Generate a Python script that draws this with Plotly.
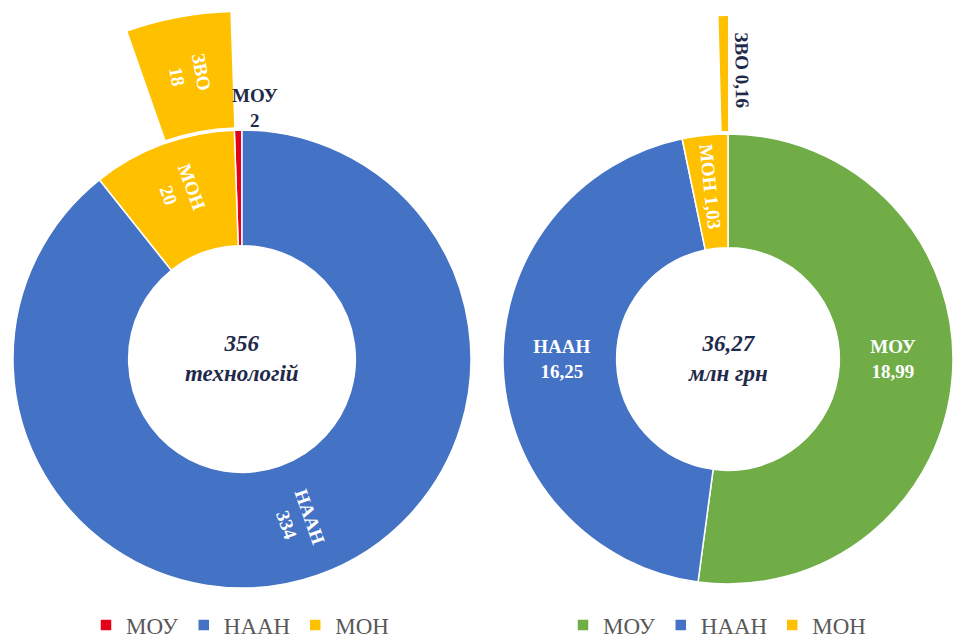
import math
import plotly.graph_objects as go

# ---------------- data ----------------
labels = ["МОУ", "НААН", "МОН"]
tech_values = [2, 334, 20]          # кількість технологій
tech_zvo = 18                        # ЗВО (показано окремим сегментом біля МОН)
fund_values = [18.99, 16.25, 1.03]   # млн грн
fund_zvo = 0.16                      # ЗВО
zvo_label = "ЗВО"
tech_center = ["356", "технологій"]
fund_center = ["36,27", "млн грн"]
tech_colors = ["#E3001B", "#4472C4", "#FFC000"]
fund_colors = ["#70AD47", "#4472C4", "#FFC000"]
zvo_color = "#FFC000"
legend_font_color = "#595959"
dark_text = "#1F2A4A"

# ---------------- layout constants (px) ----------------
W, H = 953, 643
FONT = "Liberation Serif"
HOLE = 0.495
ZVO_GAP, ZVO_LEN = 3, 115
POLAR_R = 350


def fmt(v):
    return f"{v:g}".replace(".", ",")


def to_paper(x, y):
    return x / W, (H - y) / H


donuts = [
    dict(values=tech_values, zvo=tech_zvo, colors=tech_colors, cx=242, cy=359, R=229,
         textpos=["none", "none", "inside"],
         tmpl=["%{label}<br>%{text}"] * 3, first_before_top=True,
         center=tech_center, legend="legend", group="tech", left=True),
    dict(values=fund_values, zvo=fund_zvo, colors=fund_colors, cx=728, cy=359, R=225,
         textpos=["inside", "inside", "inside"],
         tmpl=["%{label}<br>%{text}", "%{label}<br>%{text}", "%{label} %{text}"],
         first_before_top=False,
         center=fund_center, legend="legend2", group="fund", left=False),
]

fig = go.Figure()
annotations = []
polar_layouts = {}
label_font = dict(family=FONT, size=19)

for i, d in enumerate(donuts):
    cx, cy, R = d["cx"], d["cy"], d["R"]
    vals = d["values"]
    # the yellow ring sector covers МОН together with the ЗВО share
    ring = vals[:2] + [vals[2] + d["zvo"]]
    total = sum(ring)
    rotation = -360.0 * ring[0] / total if d["first_before_top"] else 0.0
    fig.add_trace(go.Pie(
        labels=labels, values=ring, text=[fmt(v) for v in vals],
        sort=False, direction="clockwise",
        rotation=rotation, hole=HOLE,
        marker=dict(colors=d["colors"], line=dict(color="white", width=1.5)),
        texttemplate=d["tmpl"], textposition=d["textpos"],
        insidetextorientation="radial",
        insidetextfont=dict(family=FONT, size=19, color="white", weight="bold"),
        domain=dict(x=[(cx - R) / W, min(1, (cx + R) / W)],
                    y=[(H - cy - R) / H, (H - cy + R) / H]),
        legend=d["legend"], legendgroup=d["group"], hoverinfo="label+text",
    ))

    # slice angles (clockwise from 12 o'clock), derived from the data
    starts, acc = [], rotation
    for v in ring:
        starts.append(acc)
        acc += 360.0 * v / total
    mids = [s + 180.0 * v / total for s, v in zip(starts, ring)]

    # ЗВО — outer segment at the end of the yellow sector, drawn in a polar subplot
    mon_end = starts[2] + 360.0 * ring[2] / total
    zvo_deg = 360.0 * d["zvo"] / total
    zvo_mid = mon_end - zvo_deg / 2
    pname = "polar" if i == 0 else "polar%d" % (i + 1)
    fig.add_trace(go.Barpolar(
        theta=[zvo_mid], r=[ZVO_LEN], base=[R + ZVO_GAP], width=[zvo_deg],
        marker=dict(color=zvo_color, line=dict(width=0)),
        subplot=pname, showlegend=False, hoverinfo="skip",
    ))
    polar_layouts[pname] = dict(
        domain=dict(x=[(cx - POLAR_R / 2) / W, (cx + POLAR_R / 2) / W],
                    y=[(H - cy) / H, (H - cy + POLAR_R) / H]),
        sector=[60, 120], bgcolor="rgba(0,0,0,0)",
        radialaxis=dict(range=[0, POLAR_R], visible=False),
        angularaxis=dict(rotation=90, direction="clockwise", visible=False),
    )

    def polar_pt(theta, r):
        a = math.radians(theta)
        return cx + r * math.sin(a), cy - r * math.cos(a)

    # ЗВО label
    rmid = R + ZVO_GAP + ZVO_LEN / 2
    lx, ly = polar_pt(zvo_mid, rmid)
    px, py = to_paper(lx, ly)
    if d["left"]:
        annotations.append(dict(
            x=px, y=py, xref="paper", yref="paper", showarrow=False,
            xanchor="center", yanchor="middle",
            text=f"<b>{zvo_label}<br>{fmt(d['zvo'])}</b>", textangle=zvo_mid - 270,
            font=dict(**label_font, color="white")))
        # НААН label (radial, centred in its slice)
        rr = R * (1 + HOLE) / 2
        nx, ny = polar_pt(mids[1], rr)
        px, py = to_paper(nx, ny)
        annotations.append(dict(
            x=px, y=py, xref="paper", yref="paper", showarrow=False,
            xanchor="center", yanchor="middle",
            text=f"<b>{labels[1]}<br>{fmt(vals[1])}</b>", textangle=mids[1] - 90,
            font=dict(**label_font, color="white")))
        # МОУ label (outside, above the tiny slice)
        mx, my = polar_pt(mids[0], R + 22)
        px, py = to_paper(mx, my)
        annotations.append(dict(
            x=px, y=py, xref="paper", yref="paper", showarrow=False,
            xanchor="center", yanchor="middle", xshift=17,
            text=f"<b>{labels[0]}<br>{fmt(vals[0])}</b>",
            font=dict(**label_font, color=dark_text)))
    else:
        annotations.append(dict(
            x=px, y=py, xref="paper", yref="paper", showarrow=False,
            xanchor="center", yanchor="middle", xshift=18, yshift=4,
            text=f"<b>{zvo_label} {fmt(d['zvo'])}</b>", textangle=zvo_mid - 270,
            font=dict(**label_font, color=dark_text)))

    # centre caption
    px, py = to_paper(cx, cy)
    annotations.append(dict(
        x=px, y=py, xref="paper", yref="paper", showarrow=False,
        xanchor="center", yanchor="middle",
        text=f"<b><i>{d['center'][0]}</i></b><br><b><i>{d['center'][1]}</i></b>",
        font=dict(family=FONT, size=23, color=dark_text)))

legend_common = dict(orientation="h", yanchor="middle", xanchor="left", traceorder="normal",
                     font=dict(family=FONT, size=23, color=legend_font_color),
                     itemclick=False, itemdoubleclick=False, bgcolor="rgba(0,0,0,0)")
fig.update_layout(
    width=W, height=H, margin=dict(l=0, r=0, t=0, b=0, autoexpand=False),
    font=dict(family=FONT),
    paper_bgcolor="white", plot_bgcolor="white",
    separators=", ",
    annotations=annotations,
    legend=dict(**legend_common, x=86 / W, y=(H - 625) / H),
    legend2=dict(**legend_common, x=563 / W, y=(H - 625) / H),
    **polar_layouts,
)

fig.write_html(
    "out.html",
    config={"displayModeBar": False},
    post_script="document.body.style.margin='0';document.body.style.overflow='hidden';",
)
